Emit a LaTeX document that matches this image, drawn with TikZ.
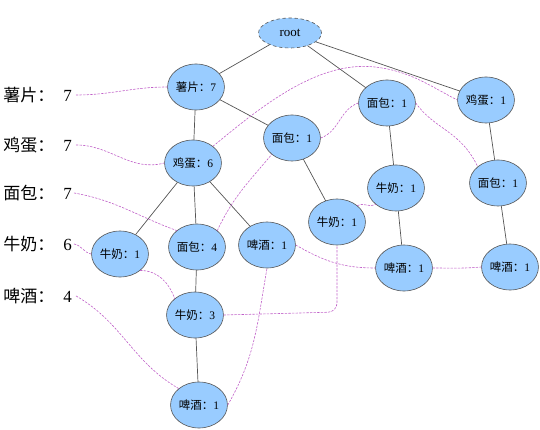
\documentclass[tikz,border=0pt]{standalone}
\usepackage{fontspec}
\usetikzlibrary{shapes.geometric}
\setmainfont{Liberation Serif}
\newfontfamily\cjk{Noto Sans CJK SC}
\definecolor{nodeblue}{HTML}{99CCFF}
\definecolor{edgegray}{HTML}{555555}
\definecolor{linkpink}{HTML}{C060C8}
\newcommand\zh[1]{{\cjk #1}}
\begin{document}
\begin{tikzpicture}[x=1pt,y=-1pt,line width=.6pt,line cap=round,line join=round,
  tn/.style={ellipse,draw=edgegray,fill=nodeblue,inner sep=0pt,
    minimum width=50pt,minimum height=46pt,font=\fontsize{11.5}{13}\selectfont},
  hd/.style={anchor=west,inner sep=0pt,font=\fontsize{17}{20}\selectfont},
  lk/.style={draw=linkpink,line width=.6pt,dash pattern=on 2pt off 1.6pt},
  ed/.style={draw=edgegray,line width=.7pt}]
  \useasboundingbox (0,0) rectangle (540,430);
  % header table
  \node[hd] (hs) at (3,95)  {\zh{薯片：}\hspace{9pt}7};
  \node[hd] (he) at (3,145) {\zh{鸡蛋：}\hspace{9pt}7};
  \node[hd] (hb) at (3,193) {\zh{面包：}\hspace{9pt}7};
  \node[hd] (hm) at (3,244) {\zh{牛奶：}\hspace{9pt}6};
  \node[hd] (hp) at (3,296) {\zh{啤酒：}\hspace{9pt}4};
  % tree
  \node[tn,dashed,minimum width=63pt,minimum height=30pt,
    font=\fontsize{13}{15}\selectfont] (root) at (290,33) {root};
  \node[tn] (s7)  at (196,87)  {\zh{薯片：}7};
  \node[tn] (e6)  at (193,163) {\zh{鸡蛋：}6};
  \node[tn] (b1a) at (292,138) {\zh{面包：}1};
  \node[tn] (b1b) at (387,103) {\zh{面包：}1};
  \node[tn] (e1)  at (486,100) {\zh{鸡蛋：}1};
  \node[tn] (m1a) at (120,254) {\zh{牛奶：}1};
  \node[tn] (b4)  at (197,247) {\zh{面包：}4};
  \node[tn] (p1a) at (267,245) {\zh{啤酒：}1};
  \node[tn] (m1b) at (337,222) {\zh{牛奶：}1};
  \node[tn] (m1c) at (396,188) {\zh{牛奶：}1};
  \node[tn] (b1c) at (498,183) {\zh{面包：}1};
  \node[tn] (p1c) at (404,268) {\zh{啤酒：}1};
  \node[tn] (p1d) at (510,267) {\zh{啤酒：}1};
  \node[tn] (m3)  at (195,315) {\zh{牛奶：}3};
  \node[tn] (p1b) at (199,405) {\zh{啤酒：}1};
  \foreach \a/\b in {root/s7,root/b1b,root/e1,s7/e6,s7/b1a,b1a/m1b,e6/m1a,e6/b4,
    e6/p1a,b4/m3,m3/p1b,b1b/m1c,m1c/p1c,e1/b1c,b1c/p1d}
    \draw[ed] (\a) -- (\b);
  % node links
  \draw[lk] (hs.east) ++(4,0) to[out=0,in=180] (s7.west);
  \draw[lk] (he.east) ++(4,0) to[out=0,in=195] (e6.west);
  \draw[lk] (e6.40) .. controls (255,112) and (315,60) .. (375,67)
    .. controls (410,71) and (430,86) .. (e1.west);
  \draw[lk] (hb.east) ++(2,0) to[out=-10,in=160] (b4.north west);
  \draw[lk] (b4.north east) to[out=65,in=230] (b1a.south west);
  \draw[lk] (b1a.east) to[out=20,in=200] (b1b.west);
  \draw[lk] (b1b.east) .. controls (435,130) and (460,130) .. (b1c.north west);
  \draw[lk] (hm.east) ++(2,0) to[out=-10,in=170] (m1a.west);
  \draw[lk] (m1a.south east) to[out=0,in=110] (m3.north west);
  \draw[lk,rounded corners=9pt] (m3.east) -- (337,312) -- (m1b.south);
  \draw[lk] (m1b.north east) to[out=30,in=210] (m1c.south west);
  \draw[lk] (hp.east) ++(4,0) to[out=-30,in=150] (p1b.north west);
  \draw[lk] (p1b.east) to[out=60,in=-100] (p1a.south);
  \draw[lk] (p1a.east) to[out=-30,in=180] (p1c.west);
  \draw[lk] (p1c.east) to[out=0,in=185] (p1d.west);
\end{tikzpicture}
\end{document}
